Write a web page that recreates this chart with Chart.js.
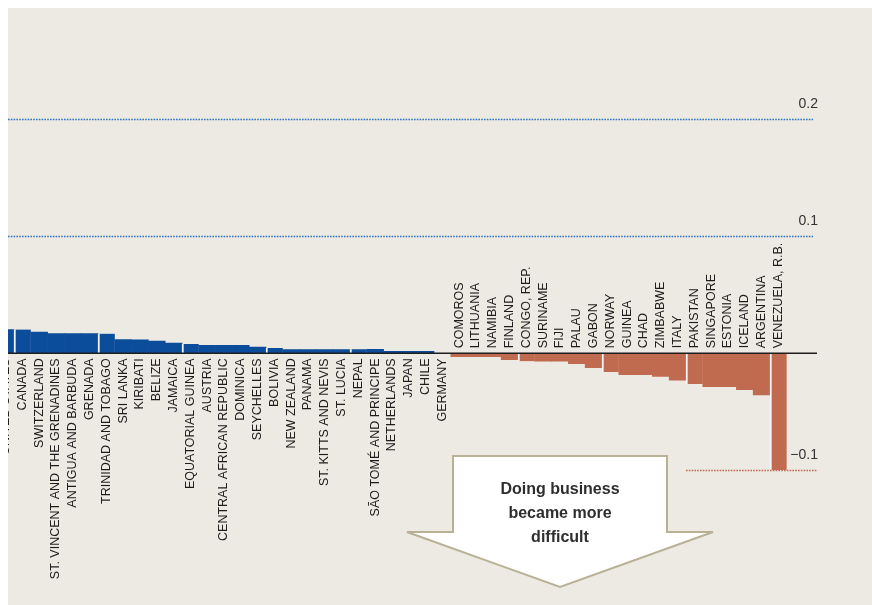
<!DOCTYPE html>
<html>
<head>
<meta charset="utf-8">
<script src="https://cdn.jsdelivr.net/npm/chart.js@4.4.1/dist/chart.umd.min.js"></script>
<style>
    body { margin: 0; background: #ffffff; width: 872px; height: 605px; overflow: hidden; position: relative; }
    #wrap { position: absolute; left: 8px; top: 8px; width: 864px; height: 597px; background: #ede9e3; overflow: hidden; }
    #chartBox { position: absolute; left: -28px; top: -8px; width: 892px; height: 605px; }
    #arrow { position: absolute; left: 0; top: 0; width: 872px; height: 605px; pointer-events: none; }
</style>
</head>
<body>
<div id="wrap">
    <div id="chartBox"><canvas id="myChart"></canvas></div>
</div>
<svg id="arrow" width="872" height="605">
    <polygon points="453,456 667,456 667,532 713,532 560,587 407,532 453,532"
             fill="#ffffff" stroke="#b9b196" stroke-width="2" stroke-linejoin="miter" />
    <text x="560" y="494" text-anchor="middle" font-family="Liberation Sans, Arial, sans-serif" font-weight="bold" font-size="16" fill="#2e2e2e">Doing business</text>
    <text x="560" y="518" text-anchor="middle" font-family="Liberation Sans, Arial, sans-serif" font-weight="bold" font-size="16" fill="#2e2e2e">became more</text>
    <text x="560" y="542" text-anchor="middle" font-family="Liberation Sans, Arial, sans-serif" font-weight="bold" font-size="16" fill="#2e2e2e">difficult</text>
</svg>

<script>
// countries, sorted by change
var countries = [
    'UNITED STATES', 'CANADA', 'SWITZERLAND', 'ST. VINCENT AND THE GRENADINES', 'ANTIGUA AND BARBUDA',
    'GRENADA', 'TRINIDAD AND TOBAGO', 'SRI LANKA', 'KIRIBATI', 'BELIZE',
    'JAMAICA', 'EQUATORIAL GUINEA', 'AUSTRIA', 'CENTRAL AFRICAN REPUBLIC', 'DOMINICA',
    'SEYCHELLES', 'BOLIVIA', 'NEW ZEALAND', 'PANAMA', 'ST. KITTS AND NEVIS',
    'ST. LUCIA', 'NEPAL', 'SÃO TOMÉ AND PRINCIPE', 'NETHERLANDS', 'JAPAN',
    'CHILE', 'GERMANY',
    'COMOROS', 'LITHUANIA', 'NAMIBIA', 'FINLAND', 'CONGO, REP.',
    'SURINAME', 'FIJI', 'PALAU', 'GABON', 'NORWAY',
    'GUINEA', 'CHAD', 'ZIMBABWE', 'ITALY', 'PAKISTAN',
    'SINGAPORE', 'ESTONIA', 'ICELAND', 'ARGENTINA', 'VENEZUELA, R.B.'
];

var change = [
    0.0203, 0.0203, 0.0182, 0.0168, 0.0168,
    0.0168, 0.0168, 0.0117, 0.0115, 0.0105,
    0.0088, 0.0080, 0.0068, 0.0068, 0.0068,
    0.0054, 0.0045, 0.0032, 0.0032, 0.0032,
    0.0032, 0.0035, 0.0035, 0.0017, 0.0017,
    0.0017, 0,
    -0.0028, -0.0028, -0.0028, -0.0054, -0.0068,
    -0.0068, -0.0068, -0.0088, -0.0122, -0.0160,
    -0.0182, -0.0182, -0.0197, -0.0230, -0.0262,
    -0.0285, -0.0285, -0.0310, -0.0355, -0.0997
];

var gridTicks = [0.2, 0.1];
var negTicks = [-0.1];
var tickText = { '0.2': '0.2', '0.1': '0.1', '-0.1': '\u22120.1' };

var blue = '#0b4d9b';
var rust = '#c06a4f';

// lines, tick texts and country names
var decoPlugin = {
    id: 'deco',
    afterDatasetsDraw: function (chart) {
        var ctx = chart.ctx;
        var x = chart.scales.x;
        var y = chart.scales.y;
        var zeroY = y.getPixelForValue(0);
        var rightEnd = 835;
        var half = (x.getPixelForValue(1) - x.getPixelForValue(0)) / 2;

        ctx.save();

        // blue dotted lines
        ctx.strokeStyle = '#2f74c2';
        ctx.lineWidth = 1.6;
        ctx.setLineDash([1.6, 1.2]);
        gridTicks.forEach(function (t) {
            var py = Math.round(y.getPixelForValue(t)) + 0.5;
            ctx.beginPath();
            ctx.moveTo(0, py);
            ctx.lineTo(rightEnd - 2, py);
            ctx.stroke();
        });

        // red dotted line, only on the right
        ctx.strokeStyle = rust;
        negTicks.forEach(function (t) {
            var py = Math.round(y.getPixelForValue(t)) + 0.5;
            ctx.beginPath();
            ctx.moveTo(x.getPixelForValue(41) - half, py);
            ctx.lineTo(rightEnd + 2, py);
            ctx.stroke();
        });

        // zero line
        ctx.setLineDash([]);
        ctx.strokeStyle = '#1e1e1e';
        ctx.lineWidth = 1.5;
        ctx.beginPath();
        ctx.moveTo(0, zeroY);
        ctx.lineTo(rightEnd + 2, zeroY);
        ctx.stroke();

        // tick texts
        ctx.fillStyle = '#333333';
        ctx.font = '14px "Liberation Sans", Arial, sans-serif';
        ctx.textAlign = 'right';
        ctx.textBaseline = 'alphabetic';
        gridTicks.concat(negTicks).forEach(function (t) {
            var py = y.getPixelForValue(t);
            ctx.fillText(tickText[String(t)], 838, py - 11);
        });

        // country names
        ctx.fillStyle = '#1c1c1c';
        ctx.font = '12.5px "Liberation Sans", Arial, sans-serif';
        ctx.textBaseline = 'middle';
        countries.forEach(function (name, i) {
            var px = x.getPixelForValue(i);
            ctx.save();
            if (change[i] >= 0) {
                ctx.translate(px, zeroY + 5);
                ctx.rotate(-Math.PI / 2);
                ctx.textAlign = 'right';
            } else {
                ctx.translate(px, zeroY - 5);
                ctx.rotate(-Math.PI / 2);
                ctx.textAlign = 'left';
            }
            ctx.fillText(name, 0, 0);
            ctx.restore();
        });

        ctx.restore();
    }
};

var myChart = new Chart(document.getElementById('myChart'), {
    type: 'bar',
    data: {
        labels: countries,
        datasets: [{
            data: change,
            backgroundColor: function (c) {
                return c.raw >= 0 ? blue : rust;
            },
            borderColor: '#f3f5f8',
            borderWidth: function (c) {
                // thin gap every fifth bar
                return c.dataIndex % 5 === 1 ? { left: 2, right: 0, top: 0, bottom: 0 } : 0;
            },
            borderSkipped: false,
            barPercentage: 1,
            categoryPercentage: 1
        }]
    },
    options: {
        responsive: true,
        maintainAspectRatio: false,
        animation: false,
        layout: {
            padding: { left: 17.2, right: 85.2, top: 60.8, bottom: 76.2 }
        },
        plugins: {
            legend: { display: false },
            tooltip: { enabled: false }
        },
        scales: {
            x: { display: false },
            y: { display: false, min: -0.15, max: 0.25 }
        }
    },
    plugins: [decoPlugin]
});
</script>
</body>
</html>
